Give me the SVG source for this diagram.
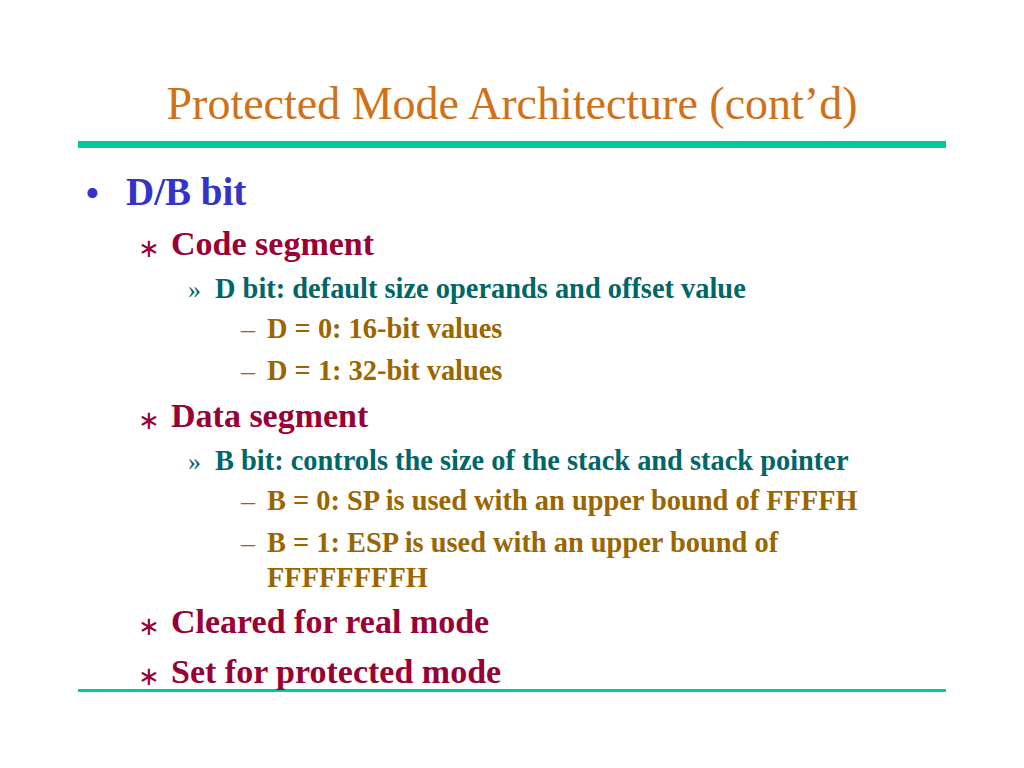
<svg xmlns="http://www.w3.org/2000/svg" width="1024" height="768" viewBox="0 0 1024 768">
<style>
text{font-family:"Liberation Serif","Times New Roman",serif}
.t{fill:#D0711A;font-size:46px}
.l1{fill:#3333CC;font-size:39px;font-weight:bold}
.l2{fill:#990033;font-size:34px;font-weight:bold}
.l3{fill:#006666;font-size:28.4px;font-weight:bold}
.l4{fill:#996600;font-size:28.4px;font-weight:bold}
.m1{fill:#3333CC;font-size:42px}
.m2{fill:#990033;font-size:26px}
.m3{fill:#006666;font-size:26px}
.m4{fill:#996600;font-size:28px}
</style>
<rect width="1024" height="768" fill="#ffffff"/>
<text class="t" x="512" y="119" text-anchor="middle">Protected Mode Architecture (cont’d)</text>
<rect x="78" y="141" width="868" height="7" fill="#00CC99"/>
<rect x="78" y="689" width="868" height="3" fill="#00CC99"/>
<g id="content">
<text class="m1" x="85" y="207">•</text>
<text class="l1" x="126" y="205">D/B bit</text>
<text class="m2" x="138" y="257">∗</text>
<text class="l2" x="171" y="255">Code segment</text>
<text class="m3" x="188" y="298">»</text>
<text class="l3" x="215" y="298">D bit: default size operands and offset value</text>
<text class="m4" x="241" y="338">–</text>
<text class="l4" x="267" y="338">D = 0: 16-bit values</text>
<text class="m4" x="241" y="380">–</text>
<text class="l4" x="267" y="380">D = 1: 32-bit values</text>
<text class="m2" x="138" y="429">∗</text>
<text class="l2" x="171" y="427">Data segment</text>
<text class="m3" x="188" y="470">»</text>
<text class="l3" x="215" y="470">B bit: controls the size of the stack and stack pointer</text>
<text class="m4" x="241" y="510">–</text>
<text class="l4" x="267" y="510">B = 0: SP is used with an upper bound of FFFFH</text>
<text class="m4" x="241" y="552">–</text>
<text class="l4" x="267" y="552">B = 1: ESP is used with an upper bound of</text>
<text class="l4" x="267" y="587">FFFFFFFFH</text>
<text class="m2" x="138" y="635">∗</text>
<text class="l2" x="171" y="633">Cleared for real mode</text>
<text class="m2" x="138" y="685">∗</text>
<text class="l2" x="171" y="683">Set for protected mode</text>
</g>
</svg>
